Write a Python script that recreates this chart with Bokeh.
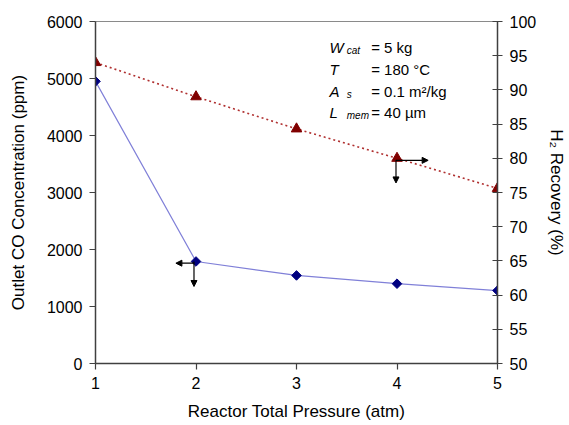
import math
from bokeh.plotting import figure
from bokeh.models import (LinearAxis, Range1d, FixedTicker, Label, Arrow,
                          NormalHead, ColumnDataSource)
from bokeh.embed import file_html
from bokeh.resources import INLINE

# ---- data ----
pressure = [1, 2, 3, 4, 5]
co_ppm = [4950, 1790, 1545, 1400, 1280]
h2_recovery = [94.0, 89.0, 84.3, 80.0, 75.6]
x_ticks = [1, 2, 3, 4, 5]
left_ticks = [0, 1000, 2000, 3000, 4000, 5000, 6000]
right_ticks = [50, 55, 60, 65, 70, 75, 80, 85, 90, 95, 100]

FONT = "Liberation Sans"
AX = "#404040"

p = figure(width=569, height=425, output_backend="svg", toolbar_location=None,
           x_range=Range1d(1, 5), y_range=Range1d(0, 6000),
           min_border_left=95, min_border_right=69, min_border_top=21,
           min_border_bottom=62, background_fill_color="white",
           border_fill_color="white")
p.extra_y_ranges = {"h2": Range1d(50, 100)}
p.grid.visible = False
p.outline_line_color = "#8a8a8a"
p.outline_line_width = 1

src = ColumnDataSource(dict(x=pressure, co=co_ppm, h2=h2_recovery))

# CO series
p.line("x", "co", source=src, line_color="#8080d8", line_width=1.2)
p.scatter("x", "co", source=src, marker="square", angle=math.pi / 4, size=6.8,
          fill_color="#000080", line_color="#000080")

# H2 series
p.line("x", "h2", source=src, y_range_name="h2", line_color="#b03030",
       line_width=1.6, line_dash="2 3")
p.scatter("x", "h2", source=src, y_range_name="h2", marker="triangle", size=10.5,
          fill_color="#800000", line_color="#800000")

# axes styling
def style_axis(ax, fs="16px"):
    ax.axis_line_color = AX
    ax.axis_line_width = 1.5
    ax.major_tick_line_color = AX
    ax.major_tick_line_width = 1.2
    ax.minor_tick_line_color = None
    ax.major_label_text_font = FONT
    ax.major_label_text_font_size = fs
    ax.major_label_text_color = "black"
    ax.axis_label_text_font = FONT
    ax.axis_label_text_font_size = "17px"
    ax.axis_label_text_font_style = "normal"
    ax.axis_label_text_color = "black"

xa = p.xaxis[0]
xa.ticker = FixedTicker(ticks=x_ticks)
xa.axis_label = "Reactor Total Pressure (atm)"
xa.major_tick_in = 0
xa.major_tick_out = 6
xa.major_label_standoff = 7
xa.axis_label_standoff = 10
style_axis(xa)

ya = p.yaxis[0]
ya.ticker = FixedTicker(ticks=left_ticks)
ya.axis_label = "Outlet CO Concentration (ppm)"
ya.major_tick_in = 0
ya.major_tick_out = 6
ya.major_label_standoff = 7
ya.axis_label_standoff = 16
style_axis(ya)

ra = LinearAxis(y_range_name="h2", ticker=FixedTicker(ticks=right_ticks),
                axis_label="H\u2082 Recovery (%)")
ra.major_tick_in = 5
ra.major_tick_out = 5
ra.major_label_standoff = 7
ra.axis_label_standoff = 8
style_axis(ra)
p.add_layout(ra, "right")

# annotation block
def lab(x, y, t, size="15px", style="normal"):
    p.add_layout(Label(x=x, y=y, text=t, text_font=FONT, text_font_size=size,
                       text_font_style=style, text_color="black",
                       text_baseline="alphabetic", text_align="left"))

rows = [("W", "cat", "= 5 kg", 5544),
        ("T", "", "= 180 \u00b0C", 5158),
        ("A", "s", "= 0.1 m\u00b2/kg", 4772),
        ("L", "mem", "= 40 \u00b5m", 4404)]
for main, sub, rest, yy in rows:
    lab(3.328, yy, main, style="italic")
    if sub:
        lab(3.50, yy - 55, sub, size="10px", style="italic")
    lab(3.743, yy, rest)

# direction arrows
def arr(x0, y0, x1, y1, rng="default"):
    a = Arrow(x_start=x0, y_start=y0, x_end=x1, y_end=y1, line_color="black",
              line_width=1.2,
              end=NormalHead(size=6, fill_color="black", line_color="black"))
    if rng != "default":
        a.y_range_name = rng
    p.add_layout(a)

arr(1.98, 1760, 1.80, 1760)
arr(1.98, 1790, 1.98, 1351)
arr(3.99, 79.7, 4.31, 79.7, "h2")
arr(3.99, 79.7, 3.99, 76.4, "h2")

open("out.html", "w").write(file_html(p, INLINE))
